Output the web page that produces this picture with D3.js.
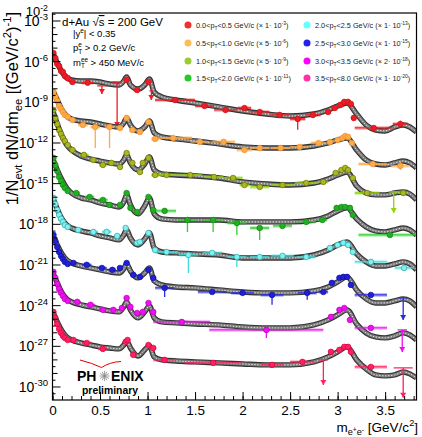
<!DOCTYPE html>
<meta charset="utf-8">
<script src="https://cdn.jsdelivr.net/npm/d3@7/dist/d3.min.js"></script>
<style>
  body { margin: 0; background: #fff; }
  text { font-family: "Liberation Sans", Arial, Helvetica, sans-serif; }
</style>
<div id="my_dataviz"></div>
<script>
// values are log10 of 1/Nevt dN/dm (already multiplied by the legend factor)
var ptLo = ["0.0", "0.5", "1.0", "1.5", "2.0", "2.5", "3.0", "3.5"];
var ptHi = ["0.5", "1.0", "1.5", "2.0", "2.5", "3.0", "3.5", "8.0"];
var scaleMant = ["1", "5", "5", "1", "1", "1", "2", "1"];
var scaleExp = ["-3", "-6", "-9", "-11", "-13", "-15", "-18", "-20"];

var yMinExp = -30.96, yMaxExp = -2.41;
var yLabelExp = [-3, -6, -9, -12, -15, -18, -21, -24, -27, -30];
var xLabels = [0, 0.5, 1, 1.5, 2, 2.5, 3, 3.5];

// cocktail curves
var curveMass = [0, .05, .1, .15, .2, .3, .4, .5, .6, .7, .75, .78, .82, .9, .97, 1.02, 1.07, 1.15, 1.3, 1.5, 1.75, 2.0, 2.25, 2.5, 2.75, 2.9, 3.0, 3.1, 3.2, 3.3, 3.4, 3.5, 3.6, 3.69, 3.76, 3.83];
var cRed = [-5.29, -6.10, -6.76, -7.20, -7.35, -7.43, -7.43, -7.50, -7.65, -7.72, -7.43, -7.13, -7.72, -8.02, -7.72, -7.28, -8.24, -8.60, -8.83, -9.05, -9.34, -9.64, -9.86, -10.01, -9.86, -9.56, -9.27, -9.05, -9.86, -10.67, -11.04, -11.11, -10.82, -10.67, -10.82, -11.19];
var cOrange = [-8.09, -8.83, -9.56, -10.01, -10.23, -10.38, -10.45, -10.60, -10.74, -10.82, -10.52, -10.15, -10.67, -11.11, -10.82, -10.38, -11.26, -11.55, -11.70, -11.85, -12.07, -12.29, -12.37, -12.37, -12.22, -12.00, -11.78, -11.63, -12.51, -13.25, -13.55, -13.62, -13.47, -13.33, -13.47, -13.84];
var cOlive = [-9.56, -10.60, -11.48, -12.15, -12.51, -12.96, -13.18, -13.33, -13.47, -13.55, -13.25, -12.88, -13.47, -13.99, -13.55, -13.03, -13.99, -14.28, -14.36, -14.43, -14.58, -14.87, -15.02, -15.10, -14.95, -14.65, -14.36, -14.14, -15.17, -15.69, -15.83, -15.83, -15.69, -15.61, -15.76, -16.20];
var cGreen = [-13.10, -13.99, -14.73, -15.32, -15.69, -16.05, -16.20, -16.42, -16.57, -16.72, -16.35, -15.83, -16.57, -17.23, -16.64, -16.05, -17.23, -17.60, -17.68, -17.68, -17.68, -17.82, -17.82, -17.82, -17.68, -17.38, -17.01, -16.79, -17.60, -18.19, -18.49, -18.56, -18.41, -18.27, -18.41, -18.78];
var cCyan = [-15.98, -16.87, -17.60, -18.05, -18.27, -18.49, -18.64, -18.86, -19.00, -19.15, -18.78, -18.41, -19.00, -19.52, -19.08, -18.64, -19.74, -20.04, -20.11, -20.18, -20.26, -20.48, -20.48, -20.48, -20.26, -19.89, -19.52, -19.30, -20.18, -20.77, -21.07, -21.07, -20.92, -20.77, -20.92, -21.36];
var cBlue = [-18.71, -19.52, -20.18, -20.63, -20.85, -21.07, -21.22, -21.36, -21.51, -21.59, -21.29, -20.92, -21.44, -21.95, -21.59, -21.22, -22.18, -22.47, -22.62, -22.69, -22.84, -22.99, -23.06, -23.06, -22.91, -22.62, -22.25, -21.88, -22.84, -23.50, -23.80, -23.80, -23.65, -23.50, -23.65, -24.09];
var cMagenta = [-21.51, -22.32, -23.06, -23.50, -23.72, -23.94, -24.09, -24.24, -24.39, -24.46, -24.09, -23.72, -24.31, -24.90, -24.46, -24.02, -24.90, -25.20, -25.27, -25.35, -25.42, -25.57, -25.64, -25.64, -25.42, -25.05, -24.68, -24.31, -25.35, -26.01, -26.31, -26.38, -26.23, -26.01, -26.16, -26.53];
var cPink = [-24.39, -25.20, -25.86, -26.31, -26.53, -26.75, -26.90, -27.04, -27.12, -27.19, -26.90, -26.60, -27.12, -27.71, -27.26, -26.97, -27.78, -28.00, -28.08, -28.15, -28.22, -28.30, -28.37, -28.37, -28.15, -27.78, -27.41, -27.04, -28.00, -28.67, -29.11, -29.18, -29.11, -28.89, -29.03, -29.33];

// data points: [mass, log10 value, half bin width, err down, err up] (errors in decades)
var ptsRed = [[.01, -5.36, .01, .05, .05], [.03, -5.73, .01, .05, .05], [.05, -6.17, .01, .05, .05], [.07, -6.32, .01, .05, .05], [.09, -6.69, .01, .05, .05], [.11, -6.76, .01, .05, .05], [.13, -7.06, .01, .05, .05], [.16, -7.20, .015, .06, .06], [.21, -7.50, .03, .08, .08], [.37, -7.55, .06, .1, .1], [.78, -7.35, .02, .1, .1], [.89, -8.09, .04, .1, .1], [1.01, -7.50, .02, .1, .1], [1.29, -8.83, .21, .1, .1], [1.6, -9.27, .1, .12, .12], [1.82, -9.56, .12, .15, .15], [2.02, -9.42, .07, .15, .15], [2.18, -9.71, .1, .15, .15], [2.39, -9.93, .1, .2, .2], [2.58, -10.23, .08, .8, .2], [2.74, -9.93, .08, .2, .2], [2.9, -9.71, .03, .12, .12], [2.97, -9.42, .03, .1, .1], [3.03, -9.19, .03, .08, .08], [3.07, -8.97, .02, .08, .08], [3.11, -8.97, .02, .08, .08], [3.14, -9.12, .02, .08, .08], [3.17, -10.15, .02, .2, .2], [3.38, -10.89, .2, .2, .2], [3.66, -10.60, .08, .25, .25]];
var ptsOrange = [[.01, -8.24, .01, .05, .05], [.03, -8.60, .01, .05, .05], [.05, -8.90, .01, .05, .05], [.07, -9.27, .01, .05, .05], [.09, -9.49, .01, .05, .05], [.11, -9.71, .01, .05, .05], [.13, -9.93, .01, .05, .05], [.16, -10.08, .015, .06, .06], [.21, -10.30, .03, .08, .08], [.32, -10.67, .05, .1, .1], [.45, -10.82, .05, 1.55, .15], [.6, -10.82, .05, 1.55, .15], [.71, -10.89, .03, .1, .1], [.78, -10.15, .02, .08, .08], [.84, -11.04, .03, .1, .1], [.92, -11.19, .03, .1, .1], [1.01, -10.45, .02, .08, .08], [1.08, -11.70, .04, .12, .12], [1.27, -11.63, .2, .1, .1], [1.55, -11.92, .1, .12, .12], [1.8, -11.92, .12, .15, .15], [2.02, -12.51, .08, .15, .15], [2.18, -12.37, .1, .15, .15], [2.4, -12.37, .1, .15, .15], [2.6, -12.29, .1, .15, .15], [2.8, -12.00, .08, .15, .15], [2.92, -11.92, .03, .1, .1], [3.0, -11.78, .03, .08, .08], [3.05, -11.63, .02, .08, .08], [3.08, -11.48, .02, .08, .08], [3.11, -11.55, .02, .08, .08], [3.15, -12.00, .02, .1, .1], [3.37, -13.55, .15, .15, .15], [3.66, -13.69, .1, .3, .3]];
var ptsOlive = [[.01, -9.56, .01, .05, .05], [.03, -10.15, .01, .05, .05], [.05, -10.60, .01, .05, .05], [.07, -11.04, .01, .05, .05], [.09, -11.33, .01, .05, .05], [.11, -11.63, .01, .05, .05], [.13, -11.85, .01, .05, .05], [.16, -12.15, .015, .06, .06], [.21, -12.51, .03, .08, .08], [.33, -12.88, .05, .1, .1], [.43, -13.25, .04, .1, .1], [.53, -13.62, .04, .1, .1], [.62, -13.47, .04, .1, .1], [.71, -13.77, .03, .1, .1], [.78, -12.74, .02, .08, .08], [.84, -13.47, .03, .1, .1], [.92, -14.14, .03, .1, .1], [.95, -13.47, .02, .1, .1], [1.01, -13.10, .02, .08, .08], [1.08, -14.36, .04, .12, .12], [1.2, -14.36, .12, .1, .1], [1.45, -14.36, .12, .12, .12], [1.7, -14.51, .1, .12, .12], [1.9, -14.58, .1, .15, .15], [2.02, -15.10, .05, .15, .15], [2.18, -15.24, .1, .15, .15], [2.42, -15.10, .12, .15, .15], [2.67, -14.95, .12, .15, .15], [2.85, -14.87, .05, .12, .12], [2.98, -14.21, .03, .1, .1], [3.04, -13.99, .02, .08, .08], [3.08, -13.84, .02, .08, .08], [3.11, -13.99, .02, .08, .08], [3.16, -14.58, .02, .1, .1], [3.31, -15.69, .13, .15, .15], [3.69, -15.69, .05, .2, .2]];
var ptsGreen = [[.01, -13.10, .01, .05, .05], [.03, -13.62, .01, .05, .05], [.05, -14.06, .01, .05, .05], [.07, -14.51, .01, .05, .05], [.09, -14.80, .01, .05, .05], [.11, -15.10, .01, .05, .05], [.13, -15.32, .01, .05, .05], [.16, -15.54, .015, .06, .06], [.25, -15.69, .04, .08, .08], [.39, -15.98, .05, .1, .1], [.53, -16.20, .05, .1, .1], [.6, -16.57, .03, .1, .1], [.71, -16.57, .03, .1, .1], [.78, -15.69, .02, .08, .08], [.82, -16.79, .02, .1, .1], [.89, -17.09, .03, .1, .1], [1.01, -15.98, .02, .08, .08], [1.06, -16.94, .03, .12, .12], [1.18, -17.01, .12, .12, .12], [1.42, -17.68, .1, .88, .15], [1.69, -17.68, .1, .88, .15], [1.94, -17.90, .1, .88, .15], [2.18, -18.27, .1, .88, .15], [2.42, -18.12, .1, .15, .15], [2.67, -17.82, .1, .15, .15], [2.84, -17.68, .05, .12, .12], [2.99, -16.79, .03, .1, .1], [3.04, -16.72, .02, .08, .08], [3.08, -16.72, .02, .08, .08], [3.13, -16.79, .02, .08, .08], [3.16, -17.31, .02, .1, .1], [3.55, -18.78, .33, .15, .15]];
var ptsCyan = [[.01, -16.05, .01, .05, .05], [.03, -16.50, .01, .05, .05], [.05, -16.94, .01, .05, .05], [.07, -17.31, .01, .05, .05], [.09, -17.60, .01, .05, .05], [.11, -17.82, .01, .05, .05], [.13, -18.05, .01, .05, .05], [.16, -18.19, .015, .06, .06], [.27, -18.41, .04, .08, .08], [.43, -18.56, .05, .1, .1], [.57, -18.56, .05, .1, .1], [.68, -18.86, .03, .1, .1], [.77, -18.27, .02, .08, .08], [.89, -19.37, .03, .1, .1], [.92, -19.30, .02, .1, .1], [1.01, -18.64, .02, .08, .08], [1.08, -19.89, .03, .12, .12], [1.2, -20.04, .12, .12, .12], [1.43, -20.26, .1, 1.33, .15], [1.68, -20.11, .1, .15, .15], [1.94, -20.41, .1, .73, .15], [2.18, -20.41, .1, .15, .15], [2.42, -20.33, .12, .15, .15], [2.67, -20.41, .1, .15, .15], [2.92, -19.74, .03, .1, .1], [3.0, -19.52, .03, .08, .08], [3.06, -19.37, .02, .08, .08], [3.11, -19.52, .02, .08, .08], [3.16, -20.04, .02, .1, .1], [3.35, -20.77, .17, .15, .15], [3.7, -21.22, .1, .2, .2]];
var ptsBlue = [[.01, -18.78, .01, .05, .05], [.03, -19.23, .01, .05, .05], [.05, -19.67, .01, .05, .05], [.07, -20.04, .01, .05, .05], [.09, -20.33, .01, .05, .05], [.11, -20.55, .01, .05, .05], [.13, -20.77, .01, .05, .05], [.16, -20.92, .015, .06, .06], [.22, -20.85, .03, .08, .08], [.36, -20.99, .05, .1, .1], [.52, -21.22, .05, .1, .1], [.63, -21.36, .04, .1, .1], [.71, -21.22, .03, .1, .1], [.78, -20.85, .02, .08, .08], [.85, -21.73, .03, .1, .1], [.92, -21.88, .03, .1, .1], [1.01, -21.36, .02, .08, .08], [1.06, -21.95, .03, .12, .12], [1.18, -22.69, .1, .67, .15], [1.68, -22.99, .15, .15, .15], [2.0, -23.06, .12, .15, .15], [2.31, -23.21, .12, .73, .15], [2.68, -23.06, .1, .5, .15], [2.85, -22.99, .05, .12, .12], [2.94, -22.32, .03, .1, .1], [3.02, -21.95, .03, .08, .08], [3.06, -21.88, .02, .08, .08], [3.1, -21.88, .02, .08, .08], [3.14, -22.47, .02, .1, .1], [3.35, -23.21, .17, .15, .15]];
var ptsMagenta = [[.01, -21.51, .01, .05, .05], [.03, -21.95, .01, .05, .05], [.05, -22.40, .01, .05, .05], [.07, -22.77, .01, .05, .05], [.09, -23.06, .01, .05, .05], [.11, -23.28, .01, .05, .05], [.13, -23.50, .01, .05, .05], [.16, -23.65, .015, .06, .06], [.26, -23.72, .04, .08, .08], [.4, -23.94, .05, .1, .1], [.53, -24.31, .04, .1, .1], [.64, -24.31, .04, .1, .1], [.73, -24.17, .03, .1, .1], [.78, -23.43, .02, .08, .08], [.82, -24.09, .02, .1, .1], [.89, -24.54, .03, .1, .1], [.95, -24.46, .02, .1, .1], [1.01, -23.80, .02, .08, .08], [1.06, -24.46, .03, .12, .12], [1.36, -25.20, .3, .12, .12], [2.25, -25.79, .6, .59, .15], [2.93, -24.83, .03, .1, .1], [3.02, -24.31, .03, .08, .08], [3.07, -24.17, .02, .08, .08], [3.13, -25.05, .02, .1, .1], [3.35, -25.64, .17, .15, .15]];
var ptsPink = [[.01, -24.46, .01, .05, .05], [.03, -24.90, .01, .05, .05], [.05, -25.35, .01, .05, .05], [.07, -25.72, .01, .05, .05], [.09, -26.01, .01, .05, .05], [.11, -26.23, .01, .05, .05], [.13, -26.38, .01, .05, .05], [.16, -26.53, .015, .06, .06], [.22, -26.53, .03, .08, .08], [.36, -26.75, .05, .1, .1], [.53, -27.19, .05, .1, .1], [.77, -26.67, .02, .08, .08], [.79, -26.53, .02, .08, .08], [.85, -27.63, .03, .1, .1], [1.01, -26.90, .02, .08, .08], [1.06, -27.12, .03, .12, .12], [1.18, -28.00, .12, .12, .12], [1.69, -28.22, .3, .15, .15], [2.31, -28.37, .12, .2, .2], [2.63, -28.15, .13, .15, .15], [2.93, -27.41, .03, .1, .1], [3.02, -27.26, .03, .08, .08], [3.07, -27.04, .02, .08, .08], [3.11, -27.04, .02, .08, .08], [3.14, -27.41, .02, .1, .1], [3.35, -28.52, .17, .15, .15]];

// upper limits: [mass, log10 value, half bin width, log10 arrow tip]
var limRed = [[.52, -7.79, .05, -8.38], [.68, -7.50, .05, -10.82], [1.04, -8.16, .02, -8.83]];
var limOlive = [[3.59, -15.61, .05, -17.16]];
var limBlue = [[3.69, -23.43, .05, -25.05]];
var limMagenta = [[3.68, -25.79, .05, -27.41]];
var limPink = [[2.85, -28.00, .05, -29.85], [3.69, -28.59, .1, -30.8]];
var sysErr = 0.15;

var spectra = [
  {curve: cRed, pts: ptsRed, lim: limRed, fill: "#ee1c24", stroke: "#d01018", bar: "#ee1c24", box: "#f6a3a3", leg: "#ee3030"},
  {curve: cOrange, pts: ptsOrange, lim: [], fill: "#ffaa44", stroke: "#f09030", bar: "#ffaa44", box: "#ffdca8", leg: "#ffbb55"},
  {curve: cOlive, pts: ptsOlive, lim: limOlive, fill: "#a8b820", stroke: "#707000", bar: "#90d400", box: "#c8ee88", leg: "#99cc33"},
  {curve: cGreen, pts: ptsGreen, lim: [], fill: "#22b022", stroke: "#118811", bar: "#33cc33", box: "#a4eea4", leg: "#22cc22"},
  {curve: cCyan, pts: ptsCyan, lim: [], fill: "#80f0f0", stroke: "#29a5a5", bar: "#40dcdc", box: "#aef4f4", leg: "#66ffff"},
  {curve: cBlue, pts: ptsBlue, lim: limBlue, fill: "#2020d8", stroke: "#1010a0", bar: "#2a2ae0", box: "#a8a8f4", leg: "#2222ee"},
  {curve: cMagenta, pts: ptsMagenta, lim: limMagenta, fill: "#ee10ee", stroke: "#c000c0", bar: "#ee10ee", box: "#f8a8f8", leg: "#ff00ff"},
  {curve: cPink, pts: ptsPink, lim: limPink, fill: "#ff2060", stroke: "#e00040", bar: "#ff2060", box: "#ffa8c0", leg: "#ff33aa"}
];

var W = 422, H = 437;
var margin = {top: 13, right: 5.5, bottom: 37, left: 52.5},
    width = W - margin.left - margin.right,
    height = H - margin.top - margin.bottom;

var root = d3.select("#my_dataviz").append("svg")
    .attr("width", W).attr("height", H);
var svg = root.append("g")
    .attr("transform", "translate(" + margin.left + "," + margin.top + ")");

root.append("defs").append("clipPath").attr("id", "clip")
  .append("rect").attr("width", width).attr("height", height);

var x = d3.scaleLinear().domain([0, 3.83]).range([0, width]);
var y = d3.scaleLog().domain([Math.pow(10, yMinExp), Math.pow(10, yMaxExp)]).range([height, 0]);
var Y = function(L) { return y(Math.pow(10, L)); };

// parts: [text, mode, dx]; mode: "", "sup", "sub", "ssup" (superscript of a subscript), "over"
function rich(t, parts, fs) {
  var cur = 0;
  parts.forEach(function(p) {
    var m = p[1] || "";
    var target = 0, size = fs;
    if (m === "sup") { target = -0.42 * fs; size = fs * 0.68; }
    if (m === "sub") { target = 0.28 * fs; size = fs * 0.68; }
    if (m === "ssup") { target = 0.02 * fs; size = fs * 0.5; }
    var ts = t.append("tspan").attr("dy", target - cur).attr("font-size", size).text(p[0]);
    if (p[2]) ts.attr("dx", p[2]);
    if (m === "over") ts.style("text-decoration", "overline");
    cur = target;
  });
  return t;
}

var plot = svg.append("g").attr("clip-path", "url(#clip)");
var line = d3.line()
    .x(function(d) { return x(d[0]); })
    .y(function(d) { return Y(d[1]); })
    .curve(d3.curveMonotoneX);

spectra.forEach(function(s) {
  var g = plot.append("g");
  // systematic boxes
  g.selectAll(".sys").data(s.pts).enter().append("rect")
    .attr("x", function(d) { return x(d[0] - d[2]); })
    .attr("width", function(d) { return x(d[0] + d[2]) - x(d[0] - d[2]); })
    .attr("y", function(d) { return Y(d[1] + sysErr); })
    .attr("height", function(d) { return Y(d[1] - sysErr) - Y(d[1] + sysErr); })
    .attr("fill", s.box).attr("opacity", 0.7);

  // cocktail band + line
  var cd = curveMass.map(function(m, i) { return [m, s.curve[i]]; });
  g.append("path").datum(cd).attr("d", line).attr("fill", "none")
    .attr("stroke", "#333").attr("stroke-width", 5.4);
  g.append("path").datum(cd).attr("d", line).attr("fill", "none")
    .attr("stroke", "#7a7a7a").attr("stroke-width", 3.2);
  g.append("path").datum(cd).attr("d", line).attr("fill", "none")
    .attr("stroke", "#e6e6e6").attr("stroke-width", 1).attr("stroke-dasharray", "1.4,1.6");

  // horizontal bin bars
  g.selectAll(".xb").data(s.pts).enter().append("line")
    .attr("x1", function(d) { return x(d[0] - d[2]); })
    .attr("x2", function(d) { return x(d[0] + d[2]); })
    .attr("y1", function(d) { return Y(d[1]); })
    .attr("y2", function(d) { return Y(d[1]); })
    .attr("stroke", s.bar).attr("stroke-width", 1.3);
  // vertical errors
  g.selectAll(".yb").data(s.pts).enter().append("line")
    .attr("x1", function(d) { return x(d[0]); })
    .attr("x2", function(d) { return x(d[0]); })
    .attr("y1", function(d) { return Y(d[1] - d[3]); })
    .attr("y2", function(d) { return Y(d[1] + d[4]); })
    .attr("stroke", s.bar).attr("stroke-width", 1.3);
  // markers
  g.selectAll(".pt").data(s.pts).enter().append("circle")
    .attr("cx", function(d) { return x(d[0]); })
    .attr("cy", function(d) { return Y(d[1]); })
    .attr("r", 2.8)
    .attr("fill", s.fill).attr("stroke", s.stroke).attr("stroke-width", 0.7);

  // upper limits
  var lg = g.selectAll(".lim").data(s.lim).enter().append("g");
  lg.append("line")
    .attr("x1", function(d) { return x(d[0] - d[2]); })
    .attr("x2", function(d) { return x(d[0] + d[2]); })
    .attr("y1", function(d) { return Y(d[1]); })
    .attr("y2", function(d) { return Y(d[1]); })
    .attr("stroke", s.bar).attr("stroke-width", 1.3);
  lg.append("line")
    .attr("x1", function(d) { return x(d[0]); })
    .attr("x2", function(d) { return x(d[0]); })
    .attr("y1", function(d) { return Y(d[1]); })
    .attr("y2", function(d) { return Y(d[3]); })
    .attr("stroke", s.bar).attr("stroke-width", 1.3);
  lg.append("path")
    .attr("d", function(d) {
      var cx = x(d[0]), cy = Y(d[3]);
      return "M" + (cx - 3) + "," + (cy - 5) + "L" + (cx + 3) + "," + (cy - 5) + "L" + cx + "," + cy + "Z";
    })
    .attr("fill", s.bar);
});

// x axis
svg.append("g")
  .attr("transform", "translate(0," + height + ")")
  .call(d3.axisBottom(x).tickValues(d3.range(0, 39).map(function(i) { return i / 10; }))
    .tickSize(-4).tickFormat(""))
  .call(function(g) { g.select(".domain").remove(); });
svg.append("g")
  .attr("transform", "translate(0," + height + ")")
  .call(d3.axisBottom(x).tickValues(xLabels).tickSize(-8).tickPadding(5)
    .tickFormat(function(d) { return String(d); }))
  .call(function(g) {
    g.select(".domain").remove();
    g.selectAll("text").attr("font-size", 13.5).attr("fill", "#000")
      .style("font-family", "'Liberation Sans', Arial, sans-serif");
  });

// y axis ticks (half decades)
var yTicks = [];
for (var e = -30.5; e <= -2.5; e += 0.5) yTicks.push(e);
svg.append("g").selectAll("line").data(yTicks).enter().append("line")
  .attr("x1", 0)
  .attr("x2", function(d) { return d % 3 === 0 ? 8 : (d % 1 === 0 ? 5 : 3); })
  .attr("y1", function(d) { return Y(d); })
  .attr("y2", function(d) { return Y(d); })
  .attr("stroke", "#000").attr("stroke-width", 1);

svg.selectAll(".ylab").data(yLabelExp).enter().append("text")
  .attr("x", -4.5).attr("y", function(d) { return Y(d) + 5; })
  .attr("text-anchor", "end")
  .each(function(d) { rich(d3.select(this), [["10"], [String(d), "sup"]], 14); });
rich(svg.append("text").attr("x", -4.5).attr("y", 3).attr("text-anchor", "end"),
  [["10"], ["-2", "sup"]], 13);

// frame
svg.append("rect").attr("width", width).attr("height", height)
  .attr("fill", "none").attr("stroke", "#000").attr("stroke-width", 1.2);

// axis titles
rich(root.append("text").attr("transform", "translate(17.5,12) rotate(-90)").attr("text-anchor", "end"),
  [["1/N"], ["evt", "sub"], [" dN/dm"], ["ee", "sub"], [" [(GeV/c"], ["2", "sup"], [")"], ["-1", "sup"], ["]"]], 16.5);
rich(root.append("text").attr("x", 418).attr("y", 431.5).attr("text-anchor", "end"),
  [["m"], ["e", "sub"], ["+", "ssup"], ["e", "sub"], ["-", "ssup"], [" [GeV/c"], ["2", "sup"], ["]"]], 13.5);

// info text
rich(root.append("text").attr("x", 62).attr("y", 26),
  [["d+Au   "], ["\u221a"], ["s", "over"], [" = 200 GeV"]], 11.5);
rich(root.append("text").attr("x", 73).attr("y", 37),
  [["|y"], ["e", "sup"], ["| < 0.35"]], 9.5);
rich(root.append("text").attr("x", 73).attr("y", 51),
  [["p"], ["e", "sup"], ["T", "sub", -3.6], [" > 0.2 GeV/c"]], 9.5);
rich(root.append("text").attr("x", 73).attr("y", 65.5),
  [["m"], ["ee", "sup"], ["T", "sub", -7.2], [" > 450 MeV/c", "", 3]], 9.5);

// legend
var legX = [188, 307], legY = [25, 43, 61, 78];
spectra.forEach(function(s, i) {
  var cx = legX[Math.floor(i / 4)], cy = legY[i % 4];
  root.append("circle").attr("cx", cx).attr("cy", cy).attr("r", 3.5).attr("fill", s.leg);
  rich(root.append("text").attr("x", cx + 8).attr("y", cy + 2.6).attr("fill", "#222"),
    [[ptLo[i] + "<p"], ["T", "sub"], ["<" + ptHi[i] + " GeV/c (\u00d7 " + scaleMant[i] + "\u00b7 10"], [scaleExp[i], "sup"], [")"]], 7.3);
});

// PHENIX preliminary
root.append("path").attr("d", "M80,360 Q92,363 101.5,367.5 Q110,362 121,361.5")
  .attr("fill", "none").attr("stroke", "#e00000").attr("stroke-width", 1);
root.append("text").attr("x", 77).attr("y", 381).attr("font-size", 14).attr("font-weight", "bold").text("PH");
root.append("text").attr("x", 111).attr("y", 381).attr("font-size", 14).attr("font-weight", "bold").text("ENIX");
var star = root.append("g").attr("transform", "translate(104.5,376)");
d3.range(0, 12).forEach(function(i) {
  var a = i * Math.PI / 6;
  star.append("line").attr("x1", 0).attr("y1", 0)
    .attr("x2", 5 * Math.cos(a)).attr("y2", 5 * Math.sin(a))
    .attr("stroke", "#888").attr("stroke-width", 0.8);
});
root.append("text").attr("x", 82).attr("y", 393.5).attr("font-size", 10.4).attr("font-weight", "bold").text("preliminary");
</script>
